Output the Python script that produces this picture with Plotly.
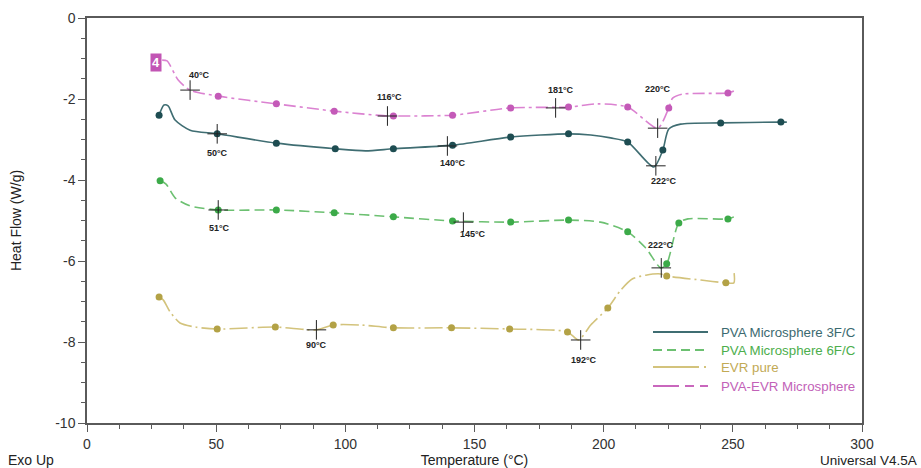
import plotly.graph_objects as go

# ---------------- data ----------------
x_tick_vals = [0, 50, 100, 150, 200, 250, 300]
x_tick_labels = ["0", "50", "100", "150", "200", "250", "300"]
y_tick_vals = [0, -2, -4, -6, -8, -10]
y_tick_labels = ["0", "-2", "-4", "-6", "-8", "-10"]

# PVA Microsphere 3F/C
temp_3fc = [27.9, 29.8, 31.4, 34.1, 39.9, 50.4, 73.3, 96.1, 107.8, 118.6, 141.5, 164.0, 186.4, 195.0, 202.7, 209.3,
            219.4, 222.9, 225.2, 229.8, 245.3, 268.6, 270.9]
heat_3fc = [-2.40, -2.15, -2.17, -2.52, -2.77, -2.86, -3.09, -3.23, -3.28, -3.23, -3.14, -2.94, -2.86, -2.89, -2.96, -3.06,
            -3.68, -3.26, -2.74, -2.62, -2.59, -2.57, -2.57]
dot_temp_3fc = [27.9, 50.4, 73.3, 96.1, 118.6, 141.5, 164.0, 186.4, 209.3, 222.9, 245.3, 268.6]
dot_heat_3fc = [-2.40, -2.86, -3.09, -3.23, -3.23, -3.14, -2.94, -2.86, -3.06, -3.26, -2.59, -2.57]

# PVA Microsphere 6F/C
temp_6fc = [28.3, 30.6, 34.1, 39.9, 50.8, 73.3, 95.7, 118.6, 141.5, 164.0, 186.4, 198.8, 209.3, 216.3, 222.1,
            224.4, 229.1, 232.6, 248.1, 250.4]
heat_6fc = [-4.02, -4.10, -4.44, -4.64, -4.74, -4.74, -4.81, -4.91, -5.01, -5.04, -4.99, -5.04, -5.28, -5.68, -6.17,
            -6.07, -5.06, -4.96, -4.96, -4.91]
dot_temp_6fc = [28.3, 50.8, 73.3, 95.7, 118.6, 141.5, 164.0, 186.4, 209.3, 224.4, 229.1, 248.1]
dot_heat_6fc = [-4.02, -4.74, -4.74, -4.81, -4.91, -5.01, -5.04, -4.99, -5.28, -6.07, -5.06, -4.96]

# EVR pure
temp_evr = [27.9, 29.5, 32.2, 36.0, 41.9, 50.4, 72.9, 88.8, 95.3, 105.8, 118.6, 141.1, 163.6, 186.0, 190.3, 195.0,
            201.6, 206.6, 211.2, 216.3, 222.1, 224.4, 237.6, 247.3, 250.4, 250.5]
heat_evr = [-6.89, -6.96, -7.26, -7.53, -7.63, -7.68, -7.63, -7.70, -7.58, -7.58, -7.65, -7.65, -7.68, -7.75, -7.95, -7.58,
            -7.16, -6.72, -6.44, -6.35, -6.32, -6.37, -6.47, -6.54, -6.54, -6.30]
dot_temp_evr = [27.9, 50.4, 72.9, 95.3, 118.6, 141.1, 163.6, 186.0, 201.6, 224.4, 247.3]
dot_heat_evr = [-6.89, -7.68, -7.63, -7.58, -7.65, -7.65, -7.68, -7.75, -7.16, -6.37, -6.54]

# PVA-EVR Microsphere
temp_pe = [29.1, 31.0, 35.3, 39.9, 50.8, 73.3, 95.7, 116.3, 118.6, 141.5, 164.0, 186.4, 197.7, 209.3, 220.9,
           225.2, 226.7, 230.6, 248.1, 250.4]
heat_pe = [-1.04, -1.06, -1.53, -1.78, -1.93, -2.12, -2.30, -2.42, -2.42, -2.40, -2.22, -2.20, -2.12, -2.20, -2.72,
           -2.22, -1.98, -1.88, -1.85, -1.80]
dot_temp_pe = [50.8, 73.3, 95.7, 118.6, 141.5, 164.0, 186.4, 209.3, 225.2, 248.1]
dot_heat_pe = [-1.93, -2.12, -2.30, -2.42, -2.40, -2.22, -2.20, -2.20, -2.22, -1.85]

# marked transition temperatures (cross positions and labels)
event_temp = [39.9, 116.3, 181.4, 220.9, 50.4, 139.5, 220.2, 50.8, 145.7, 222.3, 88.8, 191.1]
event_heat = [-1.78, -2.42, -2.22, -2.72, -2.86, -3.16, -3.65, -4.74, -5.04, -6.17, -7.70, -7.95]
event_labels = ["40°C", "116°C", "181°C", "220°C", "50°C", "140°C", "222°C", "51°C", "145°C", "222°C", "90°C", "192°C"]

series_names = ["PVA Microsphere 3F/C", "PVA Microsphere 6F/C", "EVR pure", "PVA-EVR Microsphere"]

# ---------------- styles ----------------
label_shift_x = [9, 2, 5, 0, 0, 6, 8, 1, 10, 0, 0, 3]
label_shift_y = [15, 19, 18, 39, -19, -17, -15, -18, -12, 23, -15, -20]

line_cols = ["#3f6d72", "#6cc071", "#d3c37c", "#db82d1"]
dot_cols = ["#1e4d52", "#3caa49", "#b3a246", "#c45ab8"]
text_cols = ["#3b6a70", "#4cae4c", "#c2aa55", "#c262b8"]
dashes = ["solid", "10px,5px", "18px,4px,2px,4px", "12px,4px,3px,4px"]

curves = [(temp_3fc, heat_3fc, dot_temp_3fc, dot_heat_3fc),
          (temp_6fc, heat_6fc, dot_temp_6fc, dot_heat_6fc),
          (temp_evr, heat_evr, dot_temp_evr, dot_heat_evr),
          (temp_pe, heat_pe, dot_temp_pe, dot_heat_pe)]

fig = go.Figure()
for i, (tx, hy, dx, dy) in enumerate(curves):
    fig.add_trace(go.Scatter(x=tx, y=hy, mode="lines", name=series_names[i], showlegend=False,
                             line=dict(color=line_cols[i], width=1.6, dash=dashes[i], shape="spline", smoothing=0.7),
                             hoverinfo="skip"))
    fig.add_trace(go.Scatter(x=dx, y=dy, mode="markers", showlegend=False,
                             marker=dict(color=dot_cols[i], size=7), hoverinfo="skip"))

fig.add_trace(go.Scatter(x=event_temp, y=event_heat, mode="markers", showlegend=False,
                         marker=dict(symbol="cross-thin", size=14, line=dict(width=1.0, color="#222222")),
                         hoverinfo="skip"))

annotations = []
for t, h, lab, sx, sy in zip(event_temp, event_heat, event_labels, label_shift_x, label_shift_y):
    annotations.append(dict(x=t, y=h, xref="x", yref="y", text="<b>" + lab + "</b>", showarrow=False,
                            xshift=sx, yshift=sy, font=dict(family="Liberation Sans", size=9, color="#222222")))

# helpers for pixel -> paper positions of non-data decorations
def px(xp):
    return (xp - 87) / 775.0

def py(yp):
    return (423 - yp) / 405.0

# manual legend
legend_rows = [332, 350, 367, 386]
legend_dashes = ["solid", "9px,5px", "46px,5px,2px,40px", "26px,6px,9px,6px,9px"]
shapes = []
for i, yr in enumerate(legend_rows):
    shapes.append(dict(type="line", xref="paper", yref="paper", x0=px(653), x1=px(708), y0=py(yr), y1=py(yr),
                       line=dict(color=line_cols[i] if i != 3 else "#c967bd", width=2.2, dash=legend_dashes[i])))
    annotations.append(dict(xref="paper", yref="paper", x=px(719), y=py(yr), xanchor="left", yanchor="middle",
                            text=series_names[i], showarrow=False,
                            font=dict(family="Liberation Sans", size=13.3, color=text_cols[i])))

# box "4"
annotations.append(dict(xref="paper", yref="paper", x=px(155.5), y=py(62.5), text="<b>4</b>", showarrow=False,
                        bgcolor="#c255b4", font=dict(family="Liberation Sans", size=13, color="white"),
                        borderpad=1, xanchor="center", yanchor="middle"))
annotations.append(dict(xref="paper", yref="paper", x=px(6), y=py(460), text="Exo Up", showarrow=False,
                        xanchor="left", yanchor="middle",
                        font=dict(family="Liberation Sans", size=14, color="#222222")))
annotations.append(dict(xref="paper", yref="paper", x=px(919), y=py(460), text="Universal V4.5A", showarrow=False,
                        xanchor="right", yanchor="middle",
                        font=dict(family="Liberation Sans", size=13.5, color="#222222")))

axis_common = dict(showline=True, linecolor="#5a5a5a", linewidth=1.5, mirror=True, showgrid=False, zeroline=False,
                   ticks="outside", ticklen=7, tickwidth=1.3, tickcolor="#5a5a5a", automargin=False,
                   tickfont=dict(family="Liberation Sans", size=14, color="#333333"))

fig.update_layout(
    width=921, height=468,
    margin=dict(l=87, r=59, t=18, b=45),
    paper_bgcolor="white", plot_bgcolor="white",
    showlegend=False,
    xaxis=dict(range=[0, 300], tickmode="array", tickvals=x_tick_vals, ticktext=x_tick_labels,
               minor=dict(dtick=12.5, tick0=0, ticks="outside", ticklen=4, tickcolor="#5a5a5a", tickwidth=1),
               title=dict(text="Temperature (°C)", standoff=4,
                          font=dict(family="Liberation Sans", size=14, color="#222222")),
               **axis_common),
    yaxis=dict(range=[-10, 0], tickmode="array", tickvals=y_tick_vals, ticktext=y_tick_labels,
               minor=dict(dtick=0.5, tick0=0, ticks="outside", ticklen=4, tickcolor="#5a5a5a", tickwidth=1),
               title=dict(text="Heat Flow (W/g)", standoff=30,
                          font=dict(family="Liberation Sans", size=14, color="#222222")),
               **axis_common),
    annotations=annotations,
    shapes=shapes,
)

fig.write_html("out.html", config={"displayModeBar": False},
               post_script="document.body.style.margin='0px';document.body.style.overflow='hidden';")
